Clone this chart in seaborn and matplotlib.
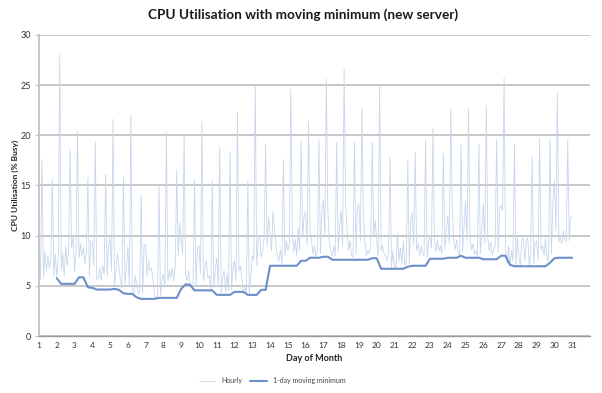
import numpy as np
import pandas as pd
import matplotlib
matplotlib.use("Agg")
import matplotlib.pyplot as plt
import seaborn as sns

# CPU busy %, one value every 2 hours (12 per day), day 1 00:00 .. day 31 00:00
hourly_cpu = [
    9.8, 5.6, 17.6, 5.8, 8.4, 6.5, 8.0, 6.8, 7.5, 15.6, 6.0, 8.2,      # day 1
    5.8, 8.0, 28.0, 6.5, 8.3, 5.9, 9.0, 7.0, 8.5, 18.6, 8.8, 10.0,     # day 2
    6.4, 8.5, 20.4, 7.8, 9.2, 8.0, 8.8, 7.2, 8.5, 15.8, 6.0, 9.5,      # day 3
    9.3, 7.0, 19.4, 5.6, 5.8, 6.8, 5.5, 7.0, 6.2, 16.1, 6.0, 9.0,      # day 4
    9.8, 6.5, 21.6, 5.0, 6.5, 8.2, 6.8, 5.5, 4.8, 15.8, 5.2, 6.8,      # day 5
    8.9, 5.0, 22.0, 4.3, 4.0, 6.0, 5.0, 4.2, 4.5, 14.0, 4.2, 9.1,      # day 6
    9.1, 6.0, 7.5, 6.5, 6.8, 5.5, 4.0, 3.8, 4.0, 15.1, 4.0, 5.5,       # day 7
    6.2, 5.0, 20.4, 5.5, 6.5, 5.8, 6.8, 5.5, 7.0, 16.5, 8.0, 11.3,     # day 8
    9.5, 8.2, 20.1, 6.0, 5.5, 6.5, 5.2, 4.9, 4.6, 15.6, 5.0, 8.8,      # day 9
    9.0, 6.2, 21.4, 5.5, 6.8, 7.5, 5.8, 6.0, 4.5, 15.5, 4.8, 6.5,      # day 10
    7.8, 5.0, 18.8, 4.3, 5.8, 6.5, 4.4, 6.2, 4.5, 18.4, 4.6, 6.8,      # day 11
    7.5, 5.5, 22.3, 6.5, 7.0, 5.8, 4.2, 5.0, 4.3, 15.5, 4.2, 6.0,      # day 12
    8.0, 7.5, 25.1, 7.0, 9.5, 10.0, 7.8, 8.5, 9.8, 19.1, 9.0, 11.9,    # day 13
    10.2, 8.5, 12.4, 10.5, 9.0, 8.0, 7.5, 8.6, 7.2, 17.6, 8.0, 9.5,    # day 14
    8.5, 9.2, 24.6, 10.5, 8.4, 9.6, 8.0, 10.8, 8.5, 19.4, 9.8, 12.0,   # day 15
    12.4, 9.0, 21.4, 10.5, 9.5, 8.2, 9.0, 8.0, 8.5, 19.6, 8.2, 12.3,   # day 16
    13.6, 10.0, 25.6, 12.5, 9.5, 8.5, 8.0, 9.0, 8.0, 19.3, 8.5, 11.0,  # day 17
    12.5, 9.0, 26.6, 13.0, 10.5, 8.5, 9.5, 8.0, 7.9, 19.3, 8.2, 12.8,  # day 18
    13.2, 9.5, 22.7, 12.0, 9.5, 8.0, 8.5, 8.2, 9.0, 19.3, 10.0, 11.5,  # day 19
    9.5, 8.0, 24.9, 8.5, 9.0, 8.2, 8.0, 7.5, 8.4, 17.8, 6.8, 8.5,      # day 20
    7.0, 6.8, 10.2, 7.5, 8.8, 7.2, 9.5, 7.0, 7.5, 17.5, 7.2, 11.5,     # day 21
    12.3, 9.0, 18.3, 8.5, 9.2, 8.0, 9.0, 8.2, 8.0, 19.5, 7.8, 9.5,     # day 22
    9.8, 8.8, 20.7, 9.5, 8.4, 9.6, 8.5, 9.0, 8.2, 18.2, 8.6, 10.5,     # day 23
    12.0, 9.2, 22.7, 13.3, 9.4, 8.6, 9.6, 8.3, 8.0, 19.1, 8.5, 11.0,   # day 24
    13.5, 9.5, 22.7, 10.0, 8.6, 9.2, 8.2, 8.5, 7.9, 19.1, 8.2, 10.5,   # day 25
    13.2, 9.3, 23.0, 9.8, 8.5, 9.4, 8.1, 8.6, 9.0, 19.6, 8.4, 12.8,    # day 26
    13.0, 12.5, 25.7, 8.5, 7.2, 9.0, 7.0, 8.5, 7.5, 19.1, 7.0, 9.8,    # day 27
    8.0, 7.0, 9.5, 9.8, 7.5, 9.6, 9.8, 7.0, 8.2, 17.9, 7.2, 9.2,       # day 28
    9.5, 7.5, 19.7, 8.6, 9.0, 8.0, 9.8, 7.6, 7.5, 19.7, 8.2, 13.5,     # day 29
    15.5, 10.5, 24.3, 9.4, 9.8, 9.2, 10.5, 9.6, 9.4, 19.6, 9.5, 11.8,  # day 30
    11.9,
]

# 1-day moving minimum, one value every 6 hours, day 2 00:00 .. day 31 00:00
moving_min = [
    5.75, 5.2, 5.2, 5.2,     # day 2
    5.2, 5.85, 5.85, 4.85,   # day 3
    4.8, 4.63, 4.63, 4.63,   # day 4
    4.63, 4.7, 4.6, 4.25,    # day 5
    4.2, 4.2, 3.85, 3.7,     # day 6
    3.7, 3.7, 3.7, 3.8,      # day 7
    3.8, 3.8, 3.8, 3.8,      # day 8
    4.7, 5.15, 5.1, 4.55,    # day 9
    4.55, 4.55, 4.55, 4.55,  # day 10
    4.1, 4.1, 4.1, 4.1,      # day 11
    4.4, 4.4, 4.4, 4.1,      # day 12
    4.1, 4.1, 4.6, 4.6,      # day 13
    7.0, 7.0, 7.0, 7.0,      # day 14
    7.0, 7.0, 7.0, 7.5,      # day 15
    7.5, 7.8, 7.8, 7.8,      # day 16
    7.9, 7.9, 7.6, 7.6,      # day 17
    7.6, 7.6, 7.6, 7.6,      # day 18
    7.6, 7.6, 7.6, 7.75,     # day 19
    7.75, 6.7, 6.7, 6.7,     # day 20
    6.7, 6.7, 6.7, 6.9,      # day 21
    7.0, 7.0, 7.0, 7.0,      # day 22
    7.7, 7.7, 7.7, 7.7,      # day 23
    7.8, 7.8, 7.8, 8.0,      # day 24
    7.8, 7.8, 7.8, 7.8,      # day 25
    7.65, 7.65, 7.65, 7.65,  # day 26
    8.0, 8.0, 7.1, 6.95,     # day 27
    6.95, 6.95, 6.95, 6.95,  # day 28
    6.95, 6.95, 6.95, 7.3,   # day 29
    7.75, 7.8, 7.8, 7.8,     # day 30
    7.8,
]

day_labels = [str(d) for d in range(1, 32)]

hourly_df = pd.DataFrame({"day": 1 + np.arange(len(hourly_cpu)) / 12, "cpu": hourly_cpu})
min_df = pd.DataFrame({"day": 2 + np.arange(len(moving_min)) / 4, "cpu": moving_min})

sns.set_style("white")
plt.rcParams['font.family'] = ['Lato', 'DejaVu Sans']

fig = plt.figure(figsize=(6.02, 3.93), dpi=100)
ax = fig.add_axes([0.0648, 0.145, 0.9152, 0.766])

sns.lineplot(data=hourly_df, x="day", y="cpu", ax=ax, color="#c6d6ec", linewidth=0.6,
             label="Hourly")
sns.lineplot(data=min_df, x="day", y="cpu", ax=ax, color="#6d8fc9", linewidth=1.5,
             label="1-day moving minimum")

ax.set_xlim(1, 32)
ax.set_ylim(0, 30)
ax.set_yticks(range(0, 31, 5))
ax.set_xticks(range(1, 32))
ax.set_xticklabels(day_labels)
ax.set_xticks(1 + np.arange(0, 31 * 24 + 1) / 24, minor=True)
ax.grid(axis="y", color="#c3c3c3", linewidth=1.3)
ax.set_axisbelow(True)

for s in ["top", "right"]:
    ax.spines[s].set_visible(False)
ax.spines["left"].set_color("#c3c3c3")
ax.spines["left"].set_linewidth(1.3)
ax.spines["bottom"].set_color("#9a9a9a")
ax.spines["bottom"].set_linewidth(1.0)

ax.tick_params(axis="x", which="major", length=0, labelsize=6, colors="#333333", pad=4)
ax.tick_params(axis="x", which="minor", length=2.5, width=0.6, color="#808080", direction="out")
ax.tick_params(axis="y", length=3, width=0.8, color="#c3c3c3", labelsize=6.5,
               labelcolor="#333333", pad=3, left=True)

ax.set_xlabel("Day of Month", fontsize=6.5, fontweight="bold", color="#222222", labelpad=4)
ax.set_ylabel("CPU Utilisation (% Busy)", fontsize=6, fontweight="bold", color="#222222",
              labelpad=1)
fig.suptitle("CPU Utilisation with moving minimum (new server)", x=0.503, y=0.978,
             fontsize=9.8, fontweight="bold", color="#1a1a1a")

ax.legend(loc="center", bbox_to_anchor=(0.423, -0.148), ncol=2, frameon=False,
          fontsize=5, handlelength=2.4, columnspacing=1.2, labelcolor="#444444")

fig.savefig("out.png", dpi=100)
